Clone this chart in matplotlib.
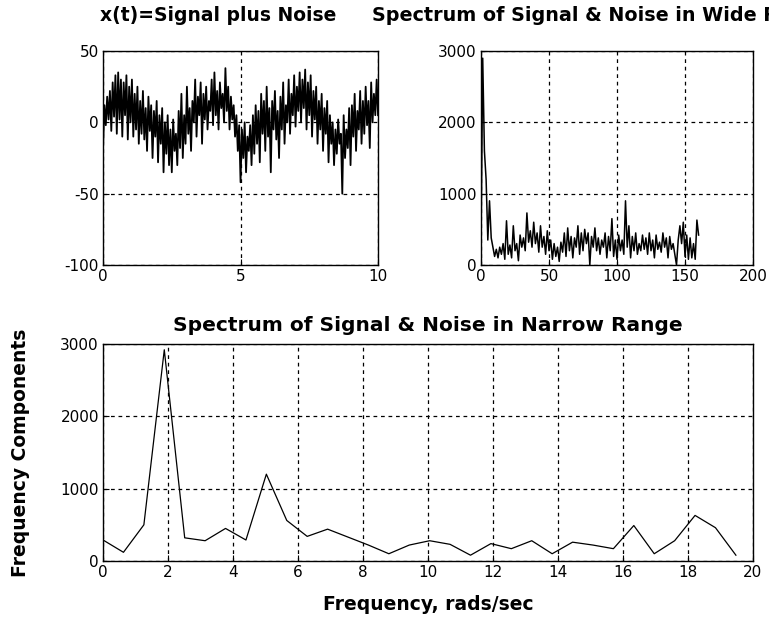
import numpy as np
import matplotlib
matplotlib.use("Agg")
import matplotlib.pyplot as plt

### Data
# time signal x(t), sampled every 0.05 s from 0 to 10 s
signal_vals = [
    -18, 12, -2, 18, 2, 22, -6, 28, 4, 33,
    -8, 35, 2, 30, -10, 28, 5, 33, -12, 25,
    0, 30, -10, 20, -5, 25, -15, 15, -8, 22,
    -12, 10, -20, 18, -6, 12, -25, 8, -10, 15,
    -28, 5, -15, 10, -35, 0, -22, 5, -30, -5,
    -35, 2, -20, -8, -30, 8, -18, 20, -25, 5,
    -15, 25, -8, 10, -20, 15, 0, 30, -10, 18,
    5, 28, -15, 20, 2, 25, -5, 15, 8, 30,
    -2, 35, 5, 22, -5, 28, 10, 20, 0, 38,
    8, 25, -5, 18, 2, 12, -10, 5, -20, -2,
    -42, -5, -25, 0, -35, -10, -20, -2, -30, 5,
    -22, 12, -15, 8, -28, 20, -8, 15, -20, 25,
    -10, 10, -35, 15, -5, 22, -12, 8, -25, 18,
    -5, 28, -15, 12, 0, 30, -8, 20, 5, 33,
    -3, 25, 8, 35, 0, 30, 10, 37, -5, 28,
    5, 33, -10, 22, 2, 25, -15, 15, -5, 20,
    -20, 10, -8, 15, -28, 5, -15, 0, -30, -5,
    -22, 2, -15, -8, -50, 5, -25, -5, -18, 10,
    -30, 12, -10, 20, -20, 8, -5, 22, -15, 15,
    -8, 25, -2, 15, -18, 28, 0, 20, 5, 30,
    5,
]

# wide range spectrum, every 1.25 rad/s from 0 to 160
wide_vals = [
    300, 2900, 1600, 1200, 350, 900, 380, 250, 120, 220,
    100, 250, 150, 300, 80, 620, 150, 280, 100, 550,
    200, 300, 60, 420, 250, 380, 200, 730, 320, 480,
    250, 600, 300, 450, 180, 550, 250, 400, 150, 480,
    200, 350, 80, 300, 120, 250, 50, 320, 180, 450,
    120, 520, 200, 400, 100, 380, 250, 550, 150, 450,
    200, 500, 300, 450, 0, 400, 250, 520, 200, 380,
    150, 350, 250, 450, 100, 400, 200, 650, 120, 350,
    80, 420, 200, 350, 150, 900, 250, 550, 100, 400,
    200, 450, 150, 300, 200, 420, 220, 380, 150, 450,
    200, 350, 100, 420, 220, 320, 180, 450, 250, 380,
    100, 400, 220, 300, 150, 0, 350, 550, 300, 600,
    120, 420, 80, 380, 100, 300, 80, 630, 420,
]

# narrow range spectrum, bins of 2*pi/10 rad/s
narrow_vals = [
    290, 120, 500, 2920, 320, 280, 450, 290, 1200, 560,
    340, 440, 330, 220, 100, 220, 280, 230, 80, 240,
    170, 280, 100, 260, 220, 170, 490, 100, 280, 630,
    460, 80,
]

t = np.linspace(0, 10, len(signal_vals))
w_wide = np.arange(len(wide_vals)) * 1.25
w_narrow = np.arange(len(narrow_vals)) * 2 * np.pi / 10

### Figure
plt.rcParams['font.family'] = ['DejaVu Sans']
plt.rcParams['axes.unicode_minus'] = False
plt.rcParams['xtick.direction'] = 'in'
plt.rcParams['ytick.direction'] = 'in'
plt.rcParams['xtick.labelsize'] = 11
plt.rcParams['ytick.labelsize'] = 11
plt.rcParams['axes.linewidth'] = 1.0

fig = plt.figure(figsize=(7.69, 6.17), dpi=100)
grid_kw = dict(color='black', linestyle=(0, (3, 3)), linewidth=0.9)

ax1 = fig.add_axes([0.134, 0.5705, 0.3576, 0.3468])
ax1.plot(t, signal_vals, color='black', linewidth=1.3)
ax1.set_xlim(0, 10)
ax1.set_ylim(-100, 50)
ax1.set_xticks([0, 5, 10])
ax1.set_yticks([-100, -50, 0, 50])
ax1.grid(True, **grid_kw)

ax2 = fig.add_axes([0.6255, 0.5705, 0.3537, 0.3468])
ax2.plot(w_wide, wide_vals, color='black', linewidth=1.1)
ax2.set_xlim(0, 200)
ax2.set_ylim(0, 3000)
ax2.set_xticks([0, 50, 100, 150, 200])
ax2.set_yticks([0, 1000, 2000, 3000])
ax2.grid(True, **grid_kw)

# top titles sit left-aligned like the original (the right one runs off the edge)
fig.text(0.130, 0.9745, "x(t)=Signal plus Noise", fontsize=13.5,
         fontweight='bold', ha='left', va='center')
fig.text(0.4837, 0.9745, "Spectrum of Signal & Noise in Wide Range", fontsize=13.8,
         fontweight='bold', ha='left', va='center')

ax3 = fig.add_axes([0.134, 0.0908, 0.845, 0.3517])
ax3.plot(w_narrow, narrow_vals, color='black', linewidth=0.9)
ax3.set_xlim(0, 20)
ax3.set_ylim(0, 3000)
ax3.set_xticks(range(0, 21, 2))
ax3.set_yticks([0, 1000, 2000, 3000])
ax3.grid(True, **grid_kw)
ax3.set_title("Spectrum of Signal & Noise in Narrow Range", fontsize=14.5,
              fontweight='bold', pad=9)
ax3.set_xlabel("Frequency, rads/sec", fontsize=13.5, fontweight='bold', labelpad=11)
ax3.set_ylabel("Frequency Components", fontsize=13.5, fontweight='bold', labelpad=22)

for ax in (ax1, ax2, ax3):
    ax.tick_params(length=4, width=0.8, pad=3)

fig.savefig("out.png", dpi=100)
